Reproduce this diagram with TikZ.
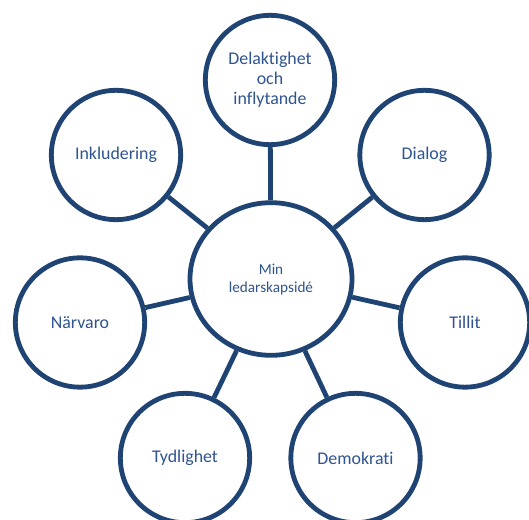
\documentclass[tikz,border=0pt]{standalone}
\usepackage{fontspec}
\setmainfont{Carlito}[Ligatures=NoCommon]
\usetikzlibrary{shapes.geometric}
\definecolor{ringblue}{HTML}{1F4474}
\definecolor{labelblue}{HTML}{2F5490}
\begin{document}
\begin{tikzpicture}[x=0.75pt,y=-0.75pt,
  ring/.style={circle,draw=ringblue,line width=3.6pt,fill=white,
    minimum size=97pt,inner sep=0pt,align=center,
    text=labelblue,font=\fontsize{13.4}{15}\selectfont},
  hub/.style={ellipse,draw=ringblue,line width=3.6pt,fill=white,
    minimum width=121.5pt,minimum height=114.5pt,inner sep=0pt,align=center,
    text=labelblue,font=\fontsize{11.4}{13.5}\selectfont},
  spoke/.style={draw=ringblue,line width=3.6pt}]
\useasboundingbox (0,0) rectangle (529,520);
\node[hub] (hub) at (271,279) {Min\\ledarskapsidé};
\node[ring] (top) at (270,80) {Delaktighet\\och\\inflytande};
\node[ring] (ink) at (116,155) {Inkludering};
\node[ring] (dia) at (424.5,155) {Dialog};
\node[ring] (nar) at (80,322.5) {Närvaro};
\node[ring] (til) at (465,322.5) {Tillit};
\node[ring] (tyd) at (185,458) {Tydlighet};
\node[ring] (dem) at (355.5,458) {Demokrati};
\foreach \n in {top,ink,dia,nar,til,tyd,dem}
  \draw[spoke] (hub) -- (\n);
\end{tikzpicture}
\end{document}
